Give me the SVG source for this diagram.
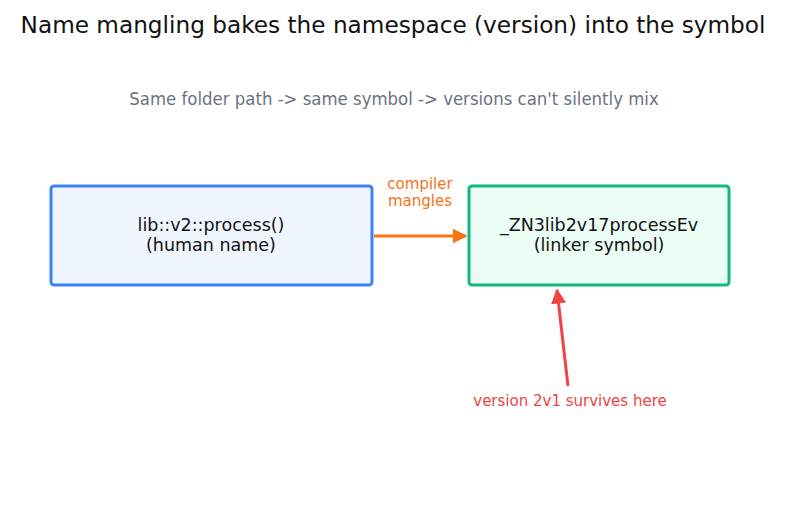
<svg xmlns="http://www.w3.org/2000/svg" width="787" height="510" viewBox="0 0 787 510">
<style>
text{font-family:"DejaVu Sans",sans-serif;text-anchor:middle}
.title{font-size:23.2px;fill:#111}
.sub{font-size:18.4px;fill:#6b7280;font-stretch:condensed}
.node{font-size:17.5px;fill:#111}
.lbl{font-size:15px}
</style>
<defs>
<marker id="ao" viewBox="0 0 10 10" refX="9" refY="5" markerWidth="5" markerHeight="5" orient="auto"><path d="M0,0L10,5L0,10z" fill="#f97316"/></marker>
<marker id="ar" viewBox="0 0 10 10" refX="9" refY="5" markerWidth="5" markerHeight="5" orient="auto"><path d="M0,0L10,5L0,10z" fill="#ef4444"/></marker>
</defs>
<rect width="787" height="510" fill="#fff"/>
<text class="title" x="393" y="33">Name mangling bakes the namespace (version) into the symbol</text>
<text class="sub" x="394" y="105">Same folder path -&gt; same symbol -&gt; versions can't silently mix</text>
<g id="human">
<rect x="51" y="186" width="321" height="99" rx="3" fill="#eff6ff" stroke="#3b82f6" stroke-width="3"/>
<text class="node" x="211" y="231">lib::v2::process()</text>
<text class="node" x="211" y="251">(human name)</text>
</g>
<g id="linker">
<rect x="469" y="186" width="260" height="99" rx="3" fill="#ecfdf5" stroke="#10b981" stroke-width="3"/>
<text class="node" x="599" y="231">_ZN3lib2v17processEv</text>
<text class="node" x="599" y="251">(linker symbol)</text>
</g>
<g id="connectors">
<line x1="374" y1="236" x2="466" y2="236" stroke="#f97316" stroke-width="3" marker-end="url(#ao)"/>
<text class="lbl" x="420" y="189" fill="#f97316">compiler</text>
<text class="lbl" x="420" y="206" fill="#f97316">mangles</text>
<line x1="568" y1="386" x2="557" y2="290" stroke="#ef4444" stroke-width="3" marker-end="url(#ar)"/>
<text class="lbl" x="570" y="406" fill="#ef4444">version 2v1 survives here</text>
</g>
</svg>
